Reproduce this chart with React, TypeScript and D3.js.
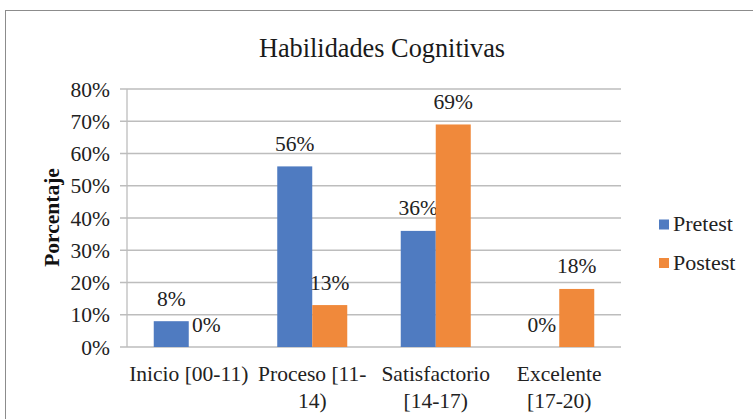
import React from "react";
import * as d3 from "d3";

const categories: string[][] = [
  ["Inicio [00-11)"],
  ["Proceso [11-", "14)"],
  ["Satisfactorio", "[14-17)"],
  ["Excelente", "[17-20)"],
];
const seriesNames = ["Pretest", "Postest"];
const pretest = [8, 56, 36, 0];
const postest = [0, 13, 69, 18];
const colors = ["#4F7BC1", "#F0893B"];
const yTicks = [0, 10, 20, 30, 40, 50, 60, 70, 80];

const W = 753;
const H = 419;
const plot = { left: 127, right: 621, top: 89, bottom: 347 };
const font = '"Liberation Serif"';
const fs = 21.5;

export default function App() {
  const x = d3
    .scaleBand<number>()
    .domain(categories.map((_, i) => i))
    .range([plot.left, plot.right])
    .paddingInner(0)
    .paddingOuter(0);
  const inner = d3
    .scaleBand<number>()
    .domain([0, 1])
    .range([0, x.bandwidth()])
    .paddingInner(0)
    .paddingOuter(0.764);
  const y = d3.scaleLinear().domain([0, 80]).range([plot.bottom, plot.top]);
  const series = [pretest, postest];

  return (
    <svg width={W} height={H} style={{ position: "absolute", left: 0, top: 0, background: "#fff" }}>
      <g fontFamily={font} style={{ fontFamily: font }}>
        <rect x={5.5} y={10.5} width={760} height={420} fill="#fff" stroke="#8c8c8c" strokeWidth={1} />
        <text x={382} y={56.5} textAnchor="middle" fontSize={26.3} fill="#1a1a1a">
          Habilidades Cognitivas
        </text>
        {yTicks.map((t) => (
          <g key={t}>
            <line x1={plot.left - 7} x2={plot.right} y1={y(t)} y2={y(t)} stroke="#bdbdbd" strokeWidth={1.3} />
            <text x={110} y={y(t) + 7.5} textAnchor="end" fontSize={fs} fill="#222">
              {t}%
            </text>
          </g>
        ))}
        <line x1={plot.left} x2={plot.left} y1={plot.top} y2={plot.bottom} stroke="#bdbdbd" strokeWidth={1.3} />
        <text
          transform={`translate(${58.5},${217.5}) rotate(-90)`}
          textAnchor="middle"
          fontSize={21.5}
          fontWeight="bold"
          fill="#111"
        >
          Porcentaje
        </text>
        {categories.map((c, i) => (
          <g key={i}>
            {series.map((s, j) => {
              const bx = (x(i) ?? 0) + (inner(j) ?? 0);
              const bw = inner.bandwidth();
              return (
                <g key={j}>
                  {s[i] > 0 && (
                    <rect x={bx} y={y(s[i])} width={bw} height={y(0) - y(s[i])} fill={colors[j]} />
                  )}
                  <text x={bx + bw / 2} y={y(s[i]) - 15.5} textAnchor="middle" fontSize={fs} fill="#222">
                    {s[i]}%
                  </text>
                </g>
              );
            })}
            {c.map((line, k) => (
              <text
                key={k}
                x={(x(i) ?? 0) + x.bandwidth() / 2}
                y={381 + k * 26.5}
                textAnchor="middle"
                fontSize={fs}
                fill="#222"
              >
                {line}
              </text>
            ))}
          </g>
        ))}
        {seriesNames.map((n, j) => (
          <g key={n}>
            <rect x={659} y={219.5 + j * 38.5} width={10} height={10} fill={colors[j]} />
            <text x={673} y={230.5 + j * 39.5} fontSize={22} fill="#222">
              {n}
            </text>
          </g>
        ))}
      </g>
    </svg>
  );
}
